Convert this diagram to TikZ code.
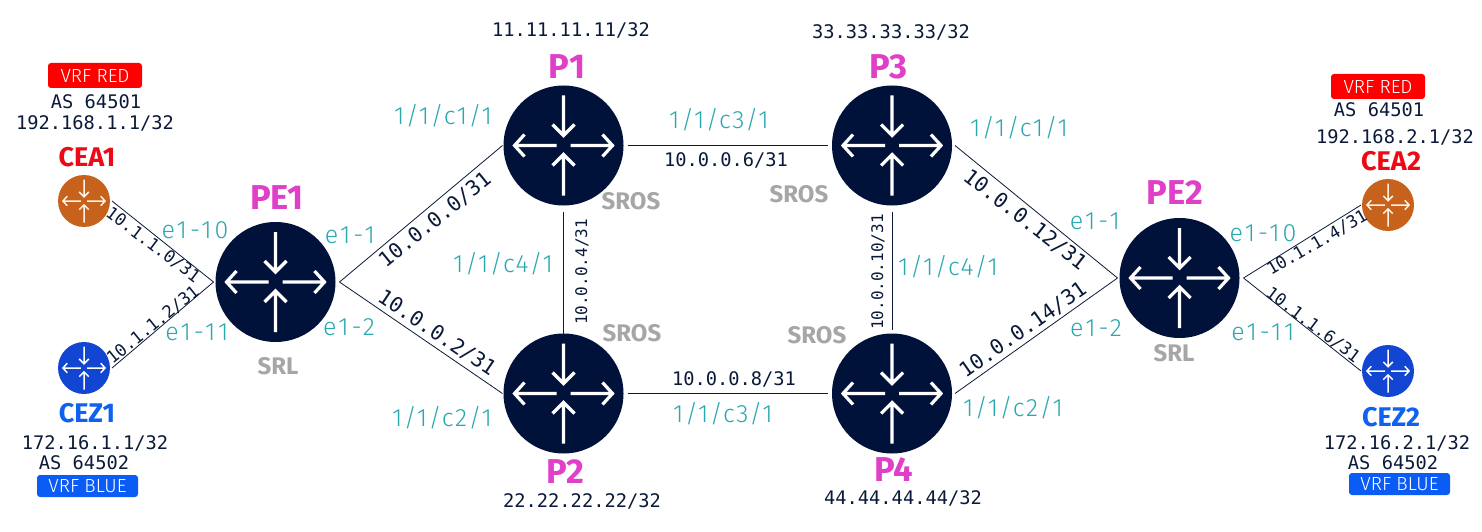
\documentclass[tikz,border=0pt]{standalone}
\usepackage{fontspec}
\setmainfont{Fira Sans}
\newfontfamily\lightfont{Fira Sans Light}
\newfontfamily\portEfont[LetterSpace=12]{Fira Sans Light}
\newfontfamily\portCfont[LetterSpace=6]{Fira Sans Light}
\setmonofont{DejaVu Sans Mono}
\definecolor{navy}{HTML}{00123A}
\definecolor{lineink}{HTML}{0A1A38}
\definecolor{teal2}{HTML}{2AA8B0}
\definecolor{magenta2}{HTML}{E040C8}
\definecolor{redname}{HTML}{EE0A14}
\definecolor{bluename}{HTML}{0F62F0}
\definecolor{badgeblue}{HTML}{0A5CF5}
\definecolor{graylbl}{HTML}{A6A6A6}
\definecolor{cebrown}{HTML}{C6621C}
\definecolor{ceblue}{HTML}{1246D2}
\newcommand\fs[1]{\fontsize{#1}{#1}\selectfont}
\tikzset{
  bigrouter/.style={circle,fill=navy,minimum size=120pt,inner sep=0pt,outer sep=4pt},
  smallrouter/.style={circle,minimum size=52pt,inner sep=0pt,outer sep=2pt},
  link/.style={draw=lineink,line width=.8pt},
  porte/.style={inner sep=0pt,text=teal2,font=\portEfont\fs{25}},
  portc/.style={inner sep=0pt,text=teal2,font=\portCfont\fs{25}},
  title/.style={inner sep=0pt,text=magenta2,font=\bfseries\fs{34.5}},
  cename/.style={inner sep=0pt,font=\bfseries\fs{27}},
  os/.style={inner sep=0pt,text=graylbl,font=\bfseries\fs{24}},
  addr/.style={inner sep=0pt,text=lineink,font=\ttfamily\fs{18.7}},
  netlarge/.style={inner sep=0pt,text=lineink,font=\ttfamily\fs{20.7}},
  netsmall/.style={inner sep=0pt,text=lineink,font=\ttfamily\fs{17}},
  netvert/.style={inner sep=0pt,text=lineink,rotate=90,font=\ttfamily\fs{16}},
  badge/.style={rounded corners=3pt,text=white,inner sep=0pt,font=\lightfont\fs{19}}
}
\newcommand\glyph[4]{%
  \begin{scope}[shift={(#1)},scale=#2,draw=#4,line width=#3,line cap=butt,miter limit=10]
    \draw (0,-50) -- (0,-10) (-11,-21) -- (0,-10) -- (11,-21);
    \draw (0,50) -- (0,9) (-11,20) -- (0,9) -- (11,20);
    \draw (-7,0) -- (-49,0) (-39,-11) -- (-49,0) -- (-39,11);
    \draw (7,0) -- (49,0) (39,-11) -- (49,0) -- (39,11);
  \end{scope}}
\begin{document}
\begin{tikzpicture}[x=1pt,y=-1pt]
\useasboundingbox[fill=white] (0,0) rectangle (1482,532);
% routers
\node[bigrouter] (PE1) at (275.5,282) {};
\node[bigrouter] (P1) at (563.5,145.5) {};
\node[bigrouter] (P2) at (563.5,393.5) {};
\node[bigrouter] (P3) at (892,145.5) {};
\node[bigrouter] (P4) at (892,393.5) {};
\node[bigrouter] (PE2) at (1179.5,278) {};
\node[smallrouter,fill=cebrown] (CEA1) at (84,201) {};
\node[smallrouter,fill=ceblue] (CEZ1) at (84,368) {};
\node[smallrouter,fill=cebrown] (CEA2) at (1388,205) {};
\node[smallrouter,fill=ceblue] (CEZ2) at (1388,371) {};
% connectors
\draw[link] (CEA1.east) -- ([xshift=2pt]PE1.west);
\draw[link] (CEZ1.east) -- ([xshift=2pt]PE1.west);
\draw[link] (PE1.east) -- ([xshift=3pt]P1.west);
\draw[link] (PE1.east) -- ([xshift=3pt]P2.west);
\draw[link] (P1.east) -- (P3.west);
\draw[link] (P2.east) -- (P4.west);
\draw[link] ([yshift=-2pt]P1.south) -- ([yshift=-4pt]P2.north);
\draw[link] ([yshift=-2pt]P3.south) -- (P4.north);
\draw[link] ([xshift=-1pt]P3.east) -- ([xshift=2pt]PE2.west);
\draw[link] ([xshift=-1pt]P4.east) -- ([xshift=2pt]PE2.west);
\draw[link] (PE2.east) -- ([xshift=1pt]CEA2.west);
\draw[link] (PE2.east) -- ([xshift=1pt]CEZ2.west);
% glyphs
\glyph{PE1.center}{1}{3.2pt}{white}
\glyph{P1.center}{1}{3.2pt}{white}
\glyph{P2.center}{1}{3.2pt}{white}
\glyph{P3.center}{1}{3.2pt}{white}
\glyph{P4.center}{1}{3.2pt}{white}
\glyph{PE2.center}{1}{3.2pt}{white}
\glyph{CEA1.center}{.43}{1.5pt}{white!90!orange}
\glyph{CEZ1.center}{.43}{1.5pt}{white}
\glyph{CEA2.center}{.43}{1.5pt}{white!90!orange}
\glyph{CEZ2.center}{.43}{1.5pt}{white}
% titles
\node[title] (tPE1) at (277,198) {PE1};
\node[title] (tP1) at (567,67) {P1};
\node[title] (tP3) at (888,67) {P3};
\node[title] (tPE2) at (1175,193) {PE2};
\node[title] (tP2) at (565,472) {P2};
\node[title] (tP4) at (894,470) {P4};
\node[cename,text=redname] (tCEA1) at (87,157) {CEA1};
\node[cename,text=redname] (tCEA2) at (1391,161) {CEA2};
\node[cename,text=bluename] (tCEZ1) at (87,413) {CEZ1};
\node[cename,text=bluename] (tCEZ2) at (1391,417) {CEZ2};
% OS labels
\node[os] (osPE1) at (278,366) {SRL};
\node[os] (osPE2) at (1174,353) {SRL};
\node[os] (osP1) at (631,201) {SROS};
\node[os] (osP3) at (799,194) {SROS};
\node[os] (osP2) at (632,333) {SROS};
\node[os] (osP4) at (817,335) {SROS};
% badges
\node[badge,fill=red,minimum width=94pt,minimum height=25pt] (bA1) at (95,75.5) {VRF RED};
\node[badge,fill=red,minimum width=94pt,minimum height=25pt] (bA2) at (1378,86.5) {VRF RED};
\node[badge,fill=badgeblue,minimum width=101pt,minimum height=22pt] (bZ1) at (87.5,486) {VRF BLUE};
\node[badge,fill=badgeblue,minimum width=101pt,minimum height=22pt] (bZ2) at (1399.5,484) {VRF BLUE};
% addresses
\node[addr] (a1) at (96,102) {AS 64501};
\node[addr] (a2) at (95,123) {192.168.1.1/32};
\node[addr] (a3) at (95,443) {172.16.1.1/32};
\node[addr] (a4) at (84,463) {AS 64502};
\node[addr] (a5) at (571,30) {11.11.11.11/32};
\node[addr] (a6) at (891,32) {33.33.33.33/32};
\node[addr] (a7) at (582,501) {22.22.22.22/32};
\node[addr] (a8) at (903,498) {44.44.44.44/32};
\node[addr] (a9) at (1379,110) {AS 64501};
\node[addr] (a10) at (1395,137) {192.168.2.1/32};
\node[addr] (a11) at (1397,443) {172.16.2.1/32};
\node[addr] (a12) at (1393,463) {AS 64502};
% link nets
\node[netsmall,rotate=-37] (n1) at (153,245) {10.1.1.0/31};
\node[netsmall,rotate=39] (n2) at (153,325) {10.1.1.2/31};
\node[netlarge,rotate=39] (n3) at (435,220) {10.0.0.0/31};
\node[netlarge,rotate=-34] (n4) at (437,333) {10.0.0.2/31};
\node[netvert] (n5) at (582,272) {10.0.0.4/31};
\node[addr] (n6) at (726,160) {10.0.0.6/31};
\node[addr] (n7) at (734,379) {10.0.0.8/31};
\node[netvert] (n8) at (878,272) {10.0.0.10/31};
\node[netlarge,rotate=-38] (n9) at (1025,220) {10.0.0.12/31};
\node[netlarge,rotate=35] (n10) at (1023,330) {10.0.0.14/31};
\node[netsmall,rotate=30] (n11) at (1317,243) {10.1.1.4/31};
\node[netsmall,rotate=-37] (n12) at (1313,325) {10.1.1.6/31};
% ports
\node[porte] (p1) at (195,230) {e1-10};
\node[porte] (p2) at (197,332) {e1-11};
\node[porte] (p3) at (350,235) {e1-1};
\node[porte] (p4) at (349,327) {e1-2};
\node[portc] (p5) at (443,116) {1/1/c1/1};
\node[portc] (p6) at (503,264) {1/1/c4/1};
\node[portc] (p7) at (442,418) {1/1/c2/1};
\node[portc] (p8) at (719,120) {1/1/c3/1};
\node[portc] (p9) at (723,414) {1/1/c3/1};
\node[portc] (p10) at (1019,128) {1/1/c1/1};
\node[portc] (p11) at (948,267) {1/1/c4/1};
\node[portc] (p12) at (1013,408) {1/1/c2/1};
\node[porte] (p13) at (1095,221) {e1-1};
\node[porte] (p14) at (1096,328) {e1-2};
\node[porte] (p15) at (1263,233) {e1-10};
\node[porte] (p16) at (1263,332) {e1-11};
\end{tikzpicture}
\end{document}
